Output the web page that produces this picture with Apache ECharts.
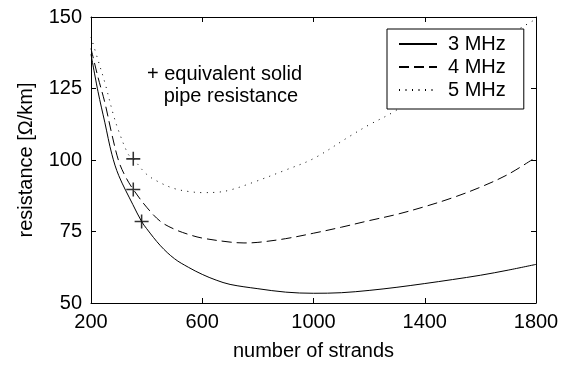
<!DOCTYPE html>
<html>
<head>
<meta charset="utf-8">
<script src="https://cdn.jsdelivr.net/npm/echarts@6/dist/echarts.min.js"></script>
<style>
html,body{margin:0;padding:0;background:#fff;}
#chart{width:572px;height:366px;}
</style>
</head>
<body>
<div id="chart"></div>
<script>
// ---- data ----
var xTicks = [200, 600, 1000, 1400, 1800];
var yTicks = [50, 75, 100, 125, 150];

var strands3 = [200, 225, 250, 275, 300, 350, 382, 400, 450, 500, 550, 600, 650, 700, 800, 900, 1000, 1100, 1200, 1300, 1400, 1500, 1600, 1700, 1800];
var res3MHz  = [137, 124, 113, 102, 94.5, 84.5, 78.5, 76, 70, 65.5, 62.5, 60, 58, 56.5, 55, 53.8, 53.4, 53.6, 54.4, 55.5, 56.8, 58.2, 59.7, 61.5, 63.5];

var strands4 = [200, 225, 250, 275, 300, 325, 352, 400, 450, 500, 550, 600, 700, 750, 800, 900, 1000, 1100, 1200, 1300, 1400, 1500, 1600, 1700, 1800];
var res4MHz  = [139, 129, 120, 109, 99.5, 94, 89.7, 83.5, 78.5, 75.8, 74, 72.7, 71.3, 71, 71.2, 72.5, 74.4, 76.5, 78.8, 81, 83.7, 86.8, 90.5, 95, 101];

var strands5 = [200, 225, 250, 280, 300, 334, 352, 400, 450, 500, 550, 600, 650, 700, 778, 900, 1000, 1132, 1200, 1286, 1400, 1500, 1600, 1700, 1800];
var res5MHz  = [143, 135, 127, 116, 110, 102, 100.4, 95, 92, 90, 89, 88.6, 88.7, 89.5, 92, 96.5, 100.5, 108.4, 112.3, 116.7, 124, 130.5, 137, 143.5, 149.3];

var pipeStrands = [352, 352, 382];
var pipeRes     = [100.4, 89.7, 78.5];

var seriesNames = ['3 MHz', '4 MHz', '5 MHz'];
var annotationLines = ['+ equivalent solid', '   pipe resistance'];

function pairs(xs, ys) { return xs.map(function (x, i) { return [x, ys[i]]; }); }

var FONT = 'Liberation Sans, Arial, Helvetica, sans-serif';
var INK = '#000';

var chart = echarts.init(document.getElementById('chart'), null, {renderer: 'canvas'});

function plain(v) { return String(v); }

function baseX(pos, labels) {
  return {
    type: 'value', position: pos, min: xTicks[0], max: xTicks[xTicks.length - 1], interval: xTicks[1] - xTicks[0],
    axisLine: {show: true, onZero: false, lineStyle: {color: INK, width: 1}},
    axisTick: {show: true, inside: true, length: 5, lineStyle: {color: INK}},
    axisLabel: {show: labels, color: INK, fontSize: 20, fontFamily: FONT, margin: 9, formatter: plain},
    splitLine: {show: false}
  };
}
function baseY(pos, labels) {
  return {
    type: 'value', position: pos, min: yTicks[0], max: yTicks[yTicks.length - 1], interval: yTicks[1] - yTicks[0],
    axisLine: {show: true, onZero: false, lineStyle: {color: INK, width: 1}},
    axisTick: {show: true, inside: true, length: 5, lineStyle: {color: INK}},
    axisLabel: {show: labels, color: INK, fontSize: 20, fontFamily: FONT, margin: 9, formatter: plain},
    splitLine: {show: false}
  };
}

var xa = baseX('bottom', true);
xa.name = 'number of strands';
xa.nameLocation = 'middle';
xa.nameGap = 38;
xa.nameTextStyle = {color: INK, fontSize: 20, fontFamily: FONT};
var xb = baseX('top', false);

var ya = baseY('left', true);
ya.name = 'resistance [\u03A9/km]';
ya.nameLocation = 'middle';
ya.nameGap = 55;
ya.nameTextStyle = {color: INK, fontSize: 20, fontFamily: FONT};
var yb = baseY('right', false);

var plusPath = 'path://M4.45,0h1.1v4.45h4.45v1.1h-4.45v4.45h-1.1v-4.45h-4.45v-1.1h4.45z';

var option = {
  animation: false,
  backgroundColor: '#fff',
  grid: {left: 91, right: 36, top: 17, bottom: 60},
  xAxis: [xa, xb],
  yAxis: [ya, yb],
  legend: {
    data: seriesNames,
    orient: 'vertical',
    left: 387, top: 29,
    padding: [5, 18, 9, 11],
    itemWidth: 38, itemHeight: 14, itemGap: 3,
    backgroundColor: '#fff',
    borderColor: INK, borderWidth: 1, borderRadius: 0,
    itemStyle: {opacity: 0},
    textStyle: {color: INK, fontSize: 20, fontFamily: FONT, padding: [0, 0, 0, 6], lineHeight: 20},
    z: 10
  },
  graphic: [
    {type: 'text', left: 147, top: 64, z: 5,
     style: {text: annotationLines[0], fill: INK, font: '20px ' + FONT}},
    {type: 'text', left: 147, top: 86, z: 5,
     style: {text: annotationLines[1], fill: INK, font: '20px ' + FONT}}
  ],
  series: [
    {name: seriesNames[0], type: 'line', data: pairs(strands3, res3MHz), symbol: 'none', smooth: 0.35,
     lineStyle: {color: INK, width: 1, type: 'solid'}, itemStyle: {color: INK}},
    {name: seriesNames[1], type: 'line', data: pairs(strands4, res4MHz), symbol: 'none', smooth: 0.35,
     lineStyle: {color: INK, width: 1, type: [10, 5]}, itemStyle: {color: INK}},
    {name: seriesNames[2], type: 'line', data: pairs(strands5, res5MHz), symbol: 'none', smooth: 0.35,
     lineStyle: {color: INK, width: 1, type: [1, 5.5]}, itemStyle: {color: INK}},
    {name: 'equivalent solid pipe resistance', type: 'scatter', data: pairs(pipeStrands, pipeRes),
     symbol: plusPath, symbolSize: 14, itemStyle: {color: INK}, z: 4}
  ]
};
chart.setOption(option);
</script>
</body>
</html>
